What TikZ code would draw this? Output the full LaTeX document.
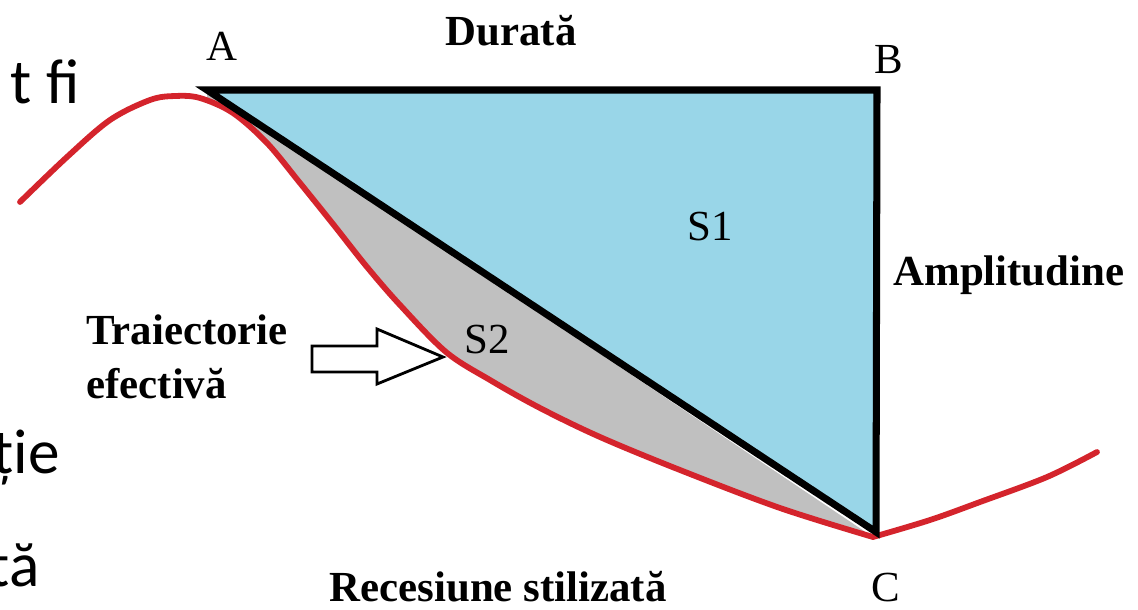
\documentclass[tikz,border=0pt]{standalone}
\usepackage{fontspec}
\setmainfont{Liberation Serif}
\newfontfamily\slidefont{Carlito}
\usepackage{xcolor}
\usetikzlibrary{positioning}
\definecolor{skyfill}{RGB}{153,214,232}
\definecolor{bandgray}{RGB}{192,192,192}
\definecolor{trajred}{RGB}{212,36,44}

\begin{document}
\begin{tikzpicture}[x=0.02cm, y=-0.02cm,
  vtx/.style={font=\fontsize{24.4}{29}\selectfont, inner sep=0pt, anchor=base},
  ttl/.style={font=\fontsize{24.4}{31}\selectfont\bfseries, inner sep=0pt, align=left},
  frag/.style={font=\slidefont\fontsize{36}{42}\selectfont, inner sep=0pt, anchor=base east},
  tri/.style={draw=black, line width=4pt, line join=miter},
  traj/.style={draw=trajred, line width=3.3pt, line cap=round, line join=round},
  ptr/.style={draw=black, line width=1.6pt, fill=white, line join=miter}]
\useasboundingbox (0,0) rectangle (1138,609);
\clip (0,0) rectangle (1138,609);
\coordinate (A) at (207,90);
\coordinate (B) at (877,90);
\coordinate (C) at (876,532);
\coordinate (tip) at (443,357);
% slide text cut by the picture
\node[frag] (frag1) at (80,103) {t fi};
\node[frag] (frag2) at (60,473) {cție};
\node[frag] (frag3) at (40,586) {tă};
% S2 band and S1 triangle
\fill[bandgray] (A) -- plot[smooth, tension=.55] coordinates {(207,100) (233,113) (267,143) (300,183) (333,224) (367,267) (400,305) (446,352) (490,380) (540,408) (600,437) (680,470) (780,508) (873,537)} -- cycle;
\fill[skyfill] (A) -- (B) -- (C) -- cycle;
\draw[traj] plot[smooth, tension=.55] coordinates {(20,202) (67,157) (110,120) (150,100) (175,96) (200,98) (233,113) (267,143) (300,183) (333,224) (367,267) (400,305) (446,352) (490,380) (540,408) (600,437) (680,470) (780,508) (873,537)}
  -- plot[smooth, tension=.55] coordinates {(873,537) (930,520) (980,502) (1047,477) (1097,452)};
\draw[tri] (A) -- (B) -- (C) -- cycle;
% labels
\node[vtx] (lblA) at (222,60) {A};
\node[vtx] (lblB) at (889,73) {B};
\node[vtx] (lblC) at (886,601) {C};
\node[vtx] (s1) at (710,240) {S1};
\node[vtx] (s2) at (487,353) {S2};
\node[ttl, anchor=base] (dur) at (511,45) {Durată};
\node[ttl, anchor=base west] (amp) at (893,285) {Amplitudine};
\node[ttl, anchor=base] (rec) at (498,601) {Recesiune stilizată};
\node[ttl, anchor=north west] (trj) at (86,314) {Traiectorie\\efectivă};
% pointer to the curve
\draw[ptr] (tip) -- ++(-66,-28) -- ++(0,17) -- ++(-65,0) -- ++(0,26) -- ++(65,0) -- ++(0,12) -- cycle;
\end{tikzpicture}
\end{document}
